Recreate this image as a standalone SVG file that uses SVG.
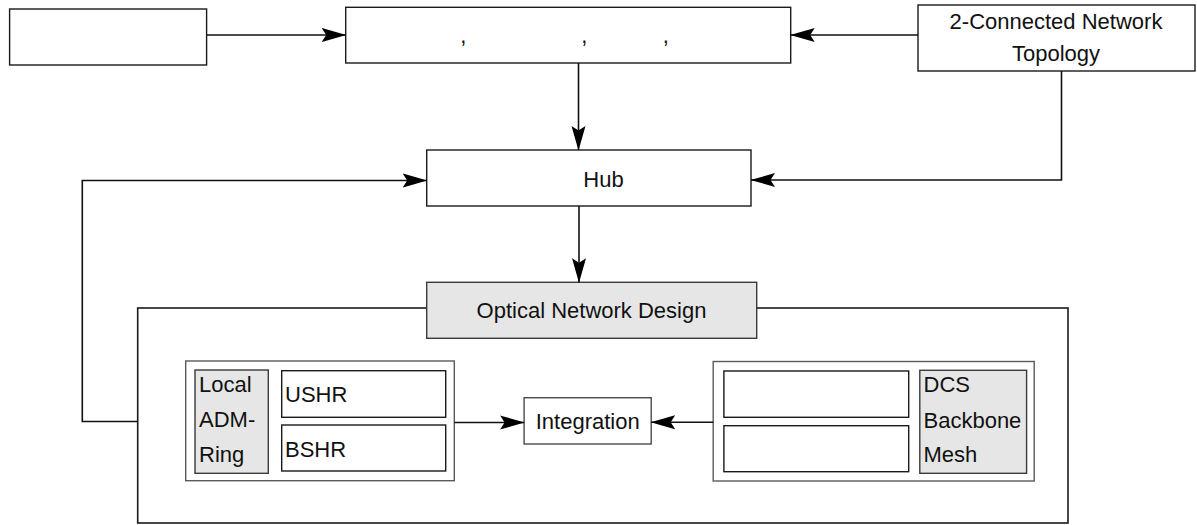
<svg xmlns="http://www.w3.org/2000/svg" width="1197" height="525" viewBox="0 0 1197 525">
  <defs>
    <marker id="arrow" markerUnits="userSpaceOnUse" markerWidth="26" markerHeight="16" refX="24" refY="7.5" orient="auto" viewBox="0 0 26 16">
      <path d="M24.5,7.5 L0,0.5 L4.5,7.5 L0,14.5 Z" fill="#000"/>
    </marker>
    <style>
      .box { fill: #fff; stroke: #1a1a1a; stroke-width: 1.4; }
      .shade { fill: #e6e6e6; stroke: #3a3a3a; stroke-width: 1.4; }
      .group { fill: #fff; stroke: #5a5a5a; stroke-width: 1.4; }
      .outer { fill: none; stroke: #1a1a1a; stroke-width: 1.6; }
      .link { fill: none; stroke: #111; stroke-width: 1.6; marker-end: url(#arrow); }
      text { font-family: "Liberation Sans", Arial, Helvetica, sans-serif; font-size: 22px; fill: #111; }
      .mid { text-anchor: middle; }
    </style>
  </defs>

  <!-- enclosing frame for the optical design stage -->
  <rect id="design-frame" class="outer" x="137.7" y="308" width="930.3" height="215"/>

  <g id="source">
    <rect class="box" x="9.6" y="9" width="197" height="56"/>
  </g>

  <g id="inputs">
    <rect class="box" x="345.7" y="7.3" width="445" height="55.7"/>
    <text class="mid" x="463.3" y="42.5">,</text>
    <text class="mid" x="584.3" y="42.5">,</text>
    <text class="mid" x="665.7" y="42.5">,</text>
  </g>

  <g id="topology">
    <rect class="box" x="918" y="5" width="277" height="66"/>
    <text class="mid" x="1056" y="28.5">2-Connected Network</text>
    <text class="mid" x="1056" y="60.5">Topology</text>
  </g>

  <g id="hub">
    <rect class="box" x="426.7" y="150" width="324.3" height="56"/>
    <text class="mid" x="603.5" y="187">Hub</text>
  </g>

  <g id="optical-design">
    <rect class="shade" x="426.7" y="282.3" width="330" height="56"/>
    <text class="mid" x="591.5" y="318.2">Optical Network Design</text>
  </g>

  <g id="local-ring">
    <rect class="group" x="185.7" y="361" width="268.6" height="119.7"/>
    <rect class="shade" x="195" y="370" width="73.3" height="103.3"/>
    <text x="199" y="392">Local</text>
    <text x="199" y="427">ADM-</text>
    <text x="199" y="462">Ring</text>
    <rect class="box" x="281.7" y="370.7" width="164" height="46.6"/>
    <text x="285" y="401.5">USHR</text>
    <rect class="box" x="281.7" y="425" width="164" height="46"/>
    <text x="285" y="456.5">BSHR</text>
  </g>

  <g id="integration">
    <rect class="box" x="524.1" y="397.7" width="127.1" height="46.3" style="stroke:#4a4a4a"/>
    <text class="mid" x="587.7" y="429">Integration</text>
  </g>

  <g id="backbone-mesh">
    <rect class="group" x="713.2" y="361.5" width="321" height="119.5"/>
    <rect class="box" x="723.9" y="371" width="184.8" height="46.3"/>
    <rect class="box" x="723.9" y="425.7" width="184.8" height="46"/>
    <rect class="shade" x="919.8" y="370.3" width="106.8" height="103"/>
    <text x="923.5" y="392">DCS</text>
    <text x="923.5" y="427.5">Backbone</text>
    <text x="923.5" y="462">Mesh</text>
  </g>

  <g id="connectors">
    <path class="link" d="M206.6,35 H345.7"/>
    <path class="link" d="M918,35 H790.7"/>
    <path class="link" d="M578.5,63 V150"/>
    <path class="link" d="M1061.5,71 V180 H751"/>
    <path class="link" d="M137.7,421.5 H82.3 V180.5 H426.7"/>
    <path class="link" d="M579,206 V282.3"/>
    <path class="link" d="M454.3,422.5 H524.1"/>
    <path class="link" d="M713.2,422.3 H651.2"/>
  </g>
</svg>
